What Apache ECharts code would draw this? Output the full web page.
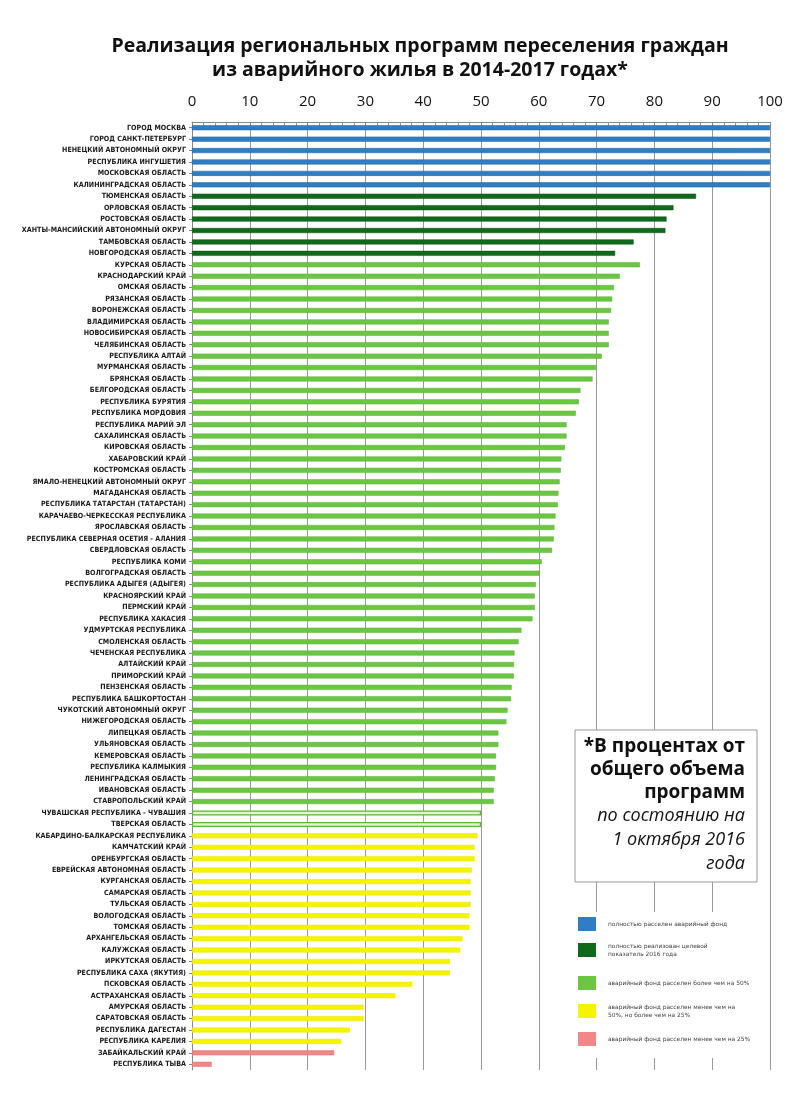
<!DOCTYPE html>
<html><head><meta charset="utf-8">
<script src="https://cdn.jsdelivr.net/npm/echarts@6/dist/echarts.min.js"></script>
<style>html,body{margin:0;padding:0;background:#fff}#c{width:800px;height:1110px}</style>
</head><body><div id="c"></div>
<script>
const titleText = 'Реализация региональных программ переселения граждан\nиз аварийного жилья в 2014-2017 годах*';
const categories = [
'ГОРОД МОСКВА','ГОРОД САНКТ-ПЕТЕРБУРГ','НЕНЕЦКИЙ АВТОНОМНЫЙ ОКРУГ','РЕСПУБЛИКА ИНГУШЕТИЯ','МОСКОВСКАЯ ОБЛАСТЬ','КАЛИНИНГРАДСКАЯ ОБЛАСТЬ',
'ТЮМЕНСКАЯ ОБЛАСТЬ','ОРЛОВСКАЯ ОБЛАСТЬ','РОСТОВСКАЯ ОБЛАСТЬ','ХАНТЫ-МАНСИЙСКИЙ АВТОНОМНЫЙ ОКРУГ','ТАМБОВСКАЯ ОБЛАСТЬ','НОВГОРОДСКАЯ ОБЛАСТЬ',
'КУРСКАЯ ОБЛАСТЬ','КРАСНОДАРСКИЙ КРАЙ','ОМСКАЯ ОБЛАСТЬ','РЯЗАНСКАЯ ОБЛАСТЬ','ВОРОНЕЖСКАЯ ОБЛАСТЬ','ВЛАДИМИРСКАЯ ОБЛАСТЬ','НОВОСИБИРСКАЯ ОБЛАСТЬ','ЧЕЛЯБИНСКАЯ ОБЛАСТЬ',
'РЕСПУБЛИКА АЛТАЙ','МУРМАНСКАЯ ОБЛАСТЬ','БРЯНСКАЯ ОБЛАСТЬ','БЕЛГОРОДСКАЯ ОБЛАСТЬ','РЕСПУБЛИКА БУРЯТИЯ','РЕСПУБЛИКА МОРДОВИЯ','РЕСПУБЛИКА МАРИЙ ЭЛ','САХАЛИНСКАЯ ОБЛАСТЬ','КИРОВСКАЯ ОБЛАСТЬ','ХАБАРОВСКИЙ КРАЙ',
'КОСТРОМСКАЯ ОБЛАСТЬ','ЯМАЛО-НЕНЕЦКИЙ АВТОНОМНЫЙ ОКРУГ','МАГАДАНСКАЯ ОБЛАСТЬ','РЕСПУБЛИКА ТАТАРСТАН (ТАТАРСТАН)','КАРАЧАЕВО-ЧЕРКЕССКАЯ РЕСПУБЛИКА','ЯРОСЛАВСКАЯ ОБЛАСТЬ','РЕСПУБЛИКА СЕВЕРНАЯ ОСЕТИЯ - АЛАНИЯ','СВЕРДЛОВСКАЯ ОБЛАСТЬ','РЕСПУБЛИКА КОМИ','ВОЛГОГРАДСКАЯ ОБЛАСТЬ',
'РЕСПУБЛИКА АДЫГЕЯ (АДЫГЕЯ)','КРАСНОЯРСКИЙ КРАЙ','ПЕРМСКИЙ КРАЙ','РЕСПУБЛИКА ХАКАСИЯ','УДМУРТСКАЯ РЕСПУБЛИКА','СМОЛЕНСКАЯ ОБЛАСТЬ','ЧЕЧЕНСКАЯ РЕСПУБЛИКА','АЛТАЙСКИЙ КРАЙ','ПРИМОРСКИЙ КРАЙ','ПЕНЗЕНСКАЯ ОБЛАСТЬ',
'РЕСПУБЛИКА БАШКОРТОСТАН','ЧУКОТСКИЙ АВТОНОМНЫЙ ОКРУГ','НИЖЕГОРОДСКАЯ ОБЛАСТЬ','ЛИПЕЦКАЯ ОБЛАСТЬ','УЛЬЯНОВСКАЯ ОБЛАСТЬ','КЕМЕРОВСКАЯ ОБЛАСТЬ','РЕСПУБЛИКА КАЛМЫКИЯ','ЛЕНИНГРАДСКАЯ ОБЛАСТЬ','ИВАНОВСКАЯ ОБЛАСТЬ','СТАВРОПОЛЬСКИЙ КРАЙ',
'ЧУВАШСКАЯ РЕСПУБЛИКА - ЧУВАШИЯ','ТВЕРСКАЯ ОБЛАСТЬ',
'КАБАРДИНО-БАЛКАРСКАЯ РЕСПУБЛИКА','КАМЧАТСКИЙ КРАЙ','ОРЕНБУРГСКАЯ ОБЛАСТЬ','ЕВРЕЙСКАЯ АВТОНОМНАЯ ОБЛАСТЬ','КУРГАНСКАЯ ОБЛАСТЬ','САМАРСКАЯ ОБЛАСТЬ','ТУЛЬСКАЯ ОБЛАСТЬ','ВОЛОГОДСКАЯ ОБЛАСТЬ','ТОМСКАЯ ОБЛАСТЬ',
'АРХАНГЕЛЬСКАЯ ОБЛАСТЬ','КАЛУЖСКАЯ ОБЛАСТЬ','ИРКУТСКАЯ ОБЛАСТЬ','РЕСПУБЛИКА САХА (ЯКУТИЯ)','ПСКОВСКАЯ ОБЛАСТЬ','АСТРАХАНСКАЯ ОБЛАСТЬ','АМУРСКАЯ ОБЛАСТЬ','САРАТОВСКАЯ ОБЛАСТЬ','РЕСПУБЛИКА ДАГЕСТАН','РЕСПУБЛИКА КАРЕЛИЯ',
'ЗАБАЙКАЛЬСКИЙ КРАЙ','РЕСПУБЛИКА ТЫВА'
];
const values = [
100,100,100,100,100,100,
87.2,83.3,82.1,81.9,76.4,73.2,
77.5,74.0,73.0,72.7,72.5,72.1,72.1,72.1,
70.9,69.9,69.3,67.2,66.9,66.4,64.8,64.8,64.5,63.9,
63.8,63.6,63.4,63.3,62.9,62.7,62.6,62.3,60.5,60.1,
59.5,59.3,59.3,58.9,57.0,56.5,55.8,55.7,55.7,55.3,
55.2,54.6,54.4,53.0,53.0,52.6,52.6,52.4,52.2,52.2,
50.0,50.0,
49.4,48.9,48.9,48.4,48.2,48.2,48.2,48.0,48.0,
46.8,46.4,44.6,44.6,38.1,35.2,29.7,29.7,27.3,25.8,
24.6,3.4
];
// group: 0 fully resettled, 1 target 2016 met, 2 >50%, 3 25-50%, 4 <25%, 5 =50% (outlined)
const groups = [
0,0,0,0,0,0,
1,1,1,1,1,1,
2,2,2,2,2,2,2,2,
2,2,2,2,2,2,2,2,2,2,
2,2,2,2,2,2,2,2,2,2,
2,2,2,2,2,2,2,2,2,2,
2,2,2,2,2,2,2,2,2,2,
5,5,
3,3,3,3,3,3,3,3,3,
3,3,3,3,3,3,3,3,3,3,
4,4
];
const xTicks = [0,10,20,30,40,50,60,70,80,90,100];
const legendTexts = [
'полностью расселен аварийный фонд',
'полностью реализован целевой\nпоказатель 2016 года',
'аварийный фонд расселен более чем на 50%',
'аварийный фонд расселен менее чем на\n50%, но более чем на 25%',
'аварийный фонд расселен менее чем на 25%'
];
const noteBold = ['*В процентах от','общего объема','программ'];
const noteItalic = ['по состоянию на','1 октября 2016','года'];

const fill = ['#2f7ec4','#0f6a1c','#6cc644','#f4f400','#f08888','#dff3d2'];
const border = ['#1d5f9e','#0a4f12','#58b233','#e6e600','#e07070','#5cb82e'];

const chart = echarts.init(document.getElementById('c'));
const data = values.map((v,i)=>({value:v,itemStyle:{color:fill[groups[i]],borderColor:border[groups[i]],borderWidth:groups[i]===5?1.2:0.5}}));

const legendY = [924,950,983,1011,1039];
const legendFill = [fill[0],fill[1],fill[2],fill[3],fill[4]];
const graphics = [
  {type:'rect',shape:{x:575,y:730,width:182,height:152},style:{fill:'#fff',stroke:'#999',lineWidth:1},z:100},
  {type:'rect',shape:{x:574,y:912,width:186,height:146},style:{fill:'#fff'},z:100}
];
noteBold.forEach((t,i)=>graphics.push({type:'text',z:101,style:{text:t,x:745,y:747+i*23,align:'right',verticalAlign:'middle',font:'bold 19px "Open Sans", sans-serif',fill:'#111'}}));
noteItalic.forEach((t,i)=>graphics.push({type:'text',z:101,style:{text:t,x:745,y:816+i*24,align:'right',verticalAlign:'middle',font:'italic 18px "Open Sans", sans-serif',fill:'#111'}}));
legendY.forEach((y,i)=>{
  graphics.push({type:'rect',z:101,shape:{x:578,y:y-7,width:18,height:14},style:{fill:legendFill[i]}});
  graphics.push({type:'text',z:101,style:{text:legendTexts[i],x:608,y:y,align:'left',verticalAlign:'middle',font:'5.9px "DejaVu Sans", sans-serif',fill:'#444',lineHeight:8}});
});

chart.setOption({
  animation:false,
  backgroundColor:'#fff',
  title:{text:titleText,left:415,top:29,textAlign:'center',textStyle:{fontFamily:'"Open Sans", sans-serif',fontSize:19.5,fontWeight:'bold',color:'#111',lineHeight:24}},
  grid:{left:192,right:30,top:122,bottom:40,containLabel:false},
  xAxis:{type:'value',position:'top',min:0,max:100,interval:10,
    axisLine:{show:true,lineStyle:{color:'#888',width:1}},
    axisTick:{show:true,inside:true,length:6,lineStyle:{color:'#888'}},
    minorTick:{show:true,splitNumber:5,length:4,lineStyle:{color:'#999'}},
    splitLine:{show:true,lineStyle:{color:'#999',width:1}},
    axisLabel:{margin:13,fontSize:15,color:'#111',fontFamily:'"Open Sans", sans-serif',formatter:(v)=>xTicks.includes(v)?String(v):''}
  },
  yAxis:{type:'category',inverse:true,data:categories,
    axisLine:{show:true,lineStyle:{color:'#888'}},
    axisTick:{show:true,length:3,alignWithLabel:true,lineStyle:{color:'#888'}},
    axisLabel:{margin:6,fontSize:7.1,fontWeight:'bold',color:'#1a1a1a',fontFamily:'"DejaVu Sans Condensed","DejaVu Sans",sans-serif',interval:0}
  },
  series:[{type:'bar',data:data,barWidth:5,z:3}],
  graphic:graphics
});
</script></body></html>
